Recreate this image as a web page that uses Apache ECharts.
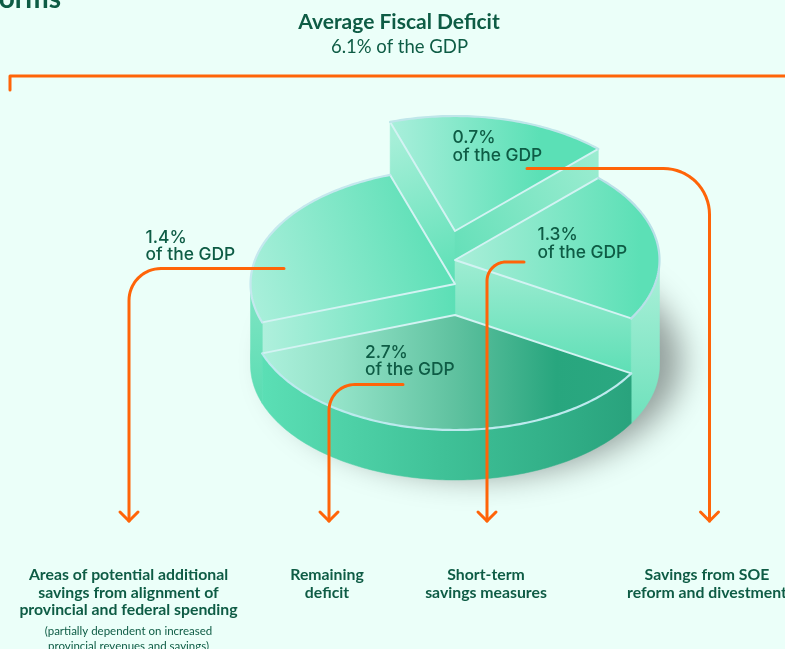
<!DOCTYPE html>
<html>
<head>
<meta charset="utf-8">
<style>html,body{margin:0;padding:0;background:#ebfff9}#c{width:785px;height:649px}</style>
<script src="https://cdn.jsdelivr.net/npm/echarts@6/dist/echarts.min.js"></script>
</head>
<body>
<div id="c"></div>
<script>
// ---- Data ----
const titleText = 'Average Fiscal Deficit';
const subtitleText = '6.1% of the GDP';
const sliceIds = ['soe', 'shortTerm', 'areas', 'remaining'];
const gdpShares = [0.7, 1.3, 1.4, 2.7];
// The wedges in the reference are not drawn to scale, so the angles are read off the picture too.
const drawnSweepDegrees = [63, 76, 91, 130];
const categoryLines = [
  ['Areas of potential additional', 'savings from alignment of', 'provincial and federal spending'],
  ['Remaining', 'deficit'],
  ['Short-term', 'savings measures'],
  ['Savings from SOE', 'reform and divestment']
];
const categoryNotes = ['(partially dependent on increased', 'provincial revenues and savings)'];

// ---- Layout and style ----
const CX = 455, RX = 204.5, RY = 115, BASE_Y = 365, START = -108.5;
const CLOCKWISE = ['soe', 'shortTerm', 'remaining', 'areas'];
const RISE = {soe: 134, shortTerm: 105, areas: 81, remaining: 50};
const G = (x, y, x2, y2, stops) => new echarts.graphic.LinearGradient(x, y, x2, y2,
  stops.map((c, i) => Array.isArray(c) ? {offset: c[0], color: c[1]} : {offset: i / (stops.length - 1), color: c}), true);
const LOOK = {
  soe: {
    top: G(390, 0, 540, 0, ['#a9efdb', '#5be0b6']), edge: '#bfe6ea',
    wallA: G(389, 140, 454, 280, ['#a6efd8', '#5de0b6']), wallB: G(454, 250, 598, 160, ['#66e0b9', '#9aecd0'])
  },
  shortTerm: {
    top: G(460, 0, 640, 0, ['#a8eed8', '#5ce0b6']), edge: '#b9e0e8',
    wallB: G(0, 265, 0, 372, ['#9cecd1', '#5fdfb6']), outer: G(0, 285, 0, 425, ['#a3eed5', '#6de1bb'])
  },
  areas: {
    top: G(255, 305, 450, 250, ['#a8efda', '#5adfb5']), edge: '#c5e8ee',
    wallA: G(261, 0, 454, 0, ['#b0f0dd', '#5cdfb6']), outer: G(0, 300, 0, 410, ['#7ce4c2', '#58dcb1'])
  },
  remaining: {
    top: G(261, 0, 630, 0, [[0, '#adf0dc'], [0.22, '#92e2c7'], [0.52, '#60c2a0'], [0.8, '#28a67e'], [1, '#2ba881']]), edge: '#bdeaee',
    outer: G(261, 0, 630, 0, [[0, '#5bdfb5'], [0.5, '#3fc197'], [1, '#29a37d']])
  }
};
const INK = '#0e5c45', ORANGE = '#ff6408';
const LEADER_LINES = [
  {from: [284, 268.5], corner: [129, 268.5], to: [129, 521], r: 32},
  {from: [403, 384.5], corner: [329, 384.5], to: [329, 521], r: 26},
  {from: [524, 262], corner: [487, 262], to: [487, 521], r: 19},
  {from: [527, 168.5], corner: [709.5, 168.5], to: [709.5, 521], r: 46}
];
const LABEL_SPOTS = [[452.5, 138], [537.5, 235], [145.5, 237.5], [365, 352.5]];
const CATEGORY_X = [128.5, 327, 486, 707];
const CATEGORY_Y = 575, CATEGORY_STEP = 17.6;

// ---- Geometry helpers ----
const rad = d => d * Math.PI / 180;
const P = (t, cy) => [CX + RX * Math.cos(rad(t)), cy + RY * Math.sin(rad(t))];
function arc(t0, t1, cy) {
  const pts = [], n = Math.max(2, Math.ceil(Math.abs(t1 - t0)));
  for (let i = 0; i <= n; i++) pts.push(P(t0 + (t1 - t0) * i / n, cy));
  return pts;
}
function wedges() {
  let t = START; const out = {};
  CLOCKWISE.forEach(id => {
    const s = drawnSweepDegrees[sliceIds.indexOf(id)];
    out[id] = [t, t + s]; t += s;
  });
  return out;
}
const ANGLES = wedges();
function poly(points, fill, z2) {
  return {type: 'polygon', shape: {points}, style: {fill, stroke: fill, lineWidth: 0.5}, z2};
}
function line(points, stroke, lineWidth, z2) {
  return {type: 'polyline', shape: {points}, style: {stroke, lineWidth, fill: null, lineCap: 'round', lineJoin: 'round'}, z2};
}
function renderBlock(params, api) {
  const id = sliceIds[api.value(0)], look = LOOK[id];
  const [t0, t1] = ANGLES[id], cy = BASE_Y - RISE[id], h = RISE[id];
  const kids = [];
  const radial = (t, fill) => {
    const p = P(t, cy);
    kids.push(poly([[CX, cy], p, [p[0], p[1] + h], [CX, cy + h]], fill));
  };
  if (Math.cos(rad(t0)) < 0 && look.wallA) radial(t0, look.wallA);
  if (Math.cos(rad(t1)) > 0 && look.wallB) radial(t1, look.wallB);
  const a = Math.max(t0, 0), b = Math.min(t1, 180);
  if (b > a && look.outer) {
    const top = arc(a, b, cy), low = arc(b, a, BASE_Y);
    kids.push(poly(top.concat(low), look.outer));
  }
  const rim = arc(t0, t1, cy);
  kids.push(poly([[CX, cy]].concat(rim), look.top));
  kids.push(line([P(t1, cy), [CX, cy], P(t0, cy)], '#d3f3f3', 2));
  kids.push(line(rim, look.edge, 2.2));
  return {type: 'group', children: kids};
}
function renderShadow() {
  return {
    type: 'polygon', shape: {points: arc(0, 360, BASE_Y - 8)},
    style: {fill: '#5fdfb6', shadowBlur: 32, shadowColor: 'rgba(0,0,0,0.38)', shadowOffsetX: 22, shadowOffsetY: 4}
  };
}
function bend(a, c, b, r) {
  const pts = [a], dx = Math.sign(c[0] - a[0]), dy = Math.sign(b[1] - c[1]);
  for (let i = 0; i <= 16; i++) {
    const u = i / 16 * Math.PI / 2;
    pts.push([c[0] - dx * r + dx * r * Math.sin(u), c[1] + dy * r - dy * r * Math.cos(u)]);
  }
  pts.push(b);
  return pts;
}
function renderLeader(params, api) {
  const L = LEADER_LINES[api.value(0)], [x, y] = L.to;
  return {type: 'group', children: [
    line(bend(L.from, L.corner, L.to, L.r), ORANGE, 3),
    line([[x - 9, y - 9], [x, y], [x + 9, y - 9]], ORANGE, 3)
  ]};
}
function renderShare(params, api) {
  const i = api.value(0), [x, y] = LABEL_SPOTS[i];
  const base = {x, fill: INK, textAlign: 'left', textVerticalAlign: 'middle', font: '500 17.4px Inter'};
  return {type: 'group', children: [
    {type: 'text', style: Object.assign({}, base, {y, text: gdpShares[i] + '%'})},
    {type: 'text', style: Object.assign({}, base, {y: y + 17.5, text: 'of the GDP'})}
  ]};
}
function renderCategory(params, api) {
  const i = api.value(0), x = CATEGORY_X[i], kids = [];
  categoryLines[i].forEach((text, k) => kids.push({type: 'text', style: {
    x, y: CATEGORY_Y + k * CATEGORY_STEP, text, fill: INK, textAlign: 'center', textVerticalAlign: 'middle', font: '700 15.8px Lato'
  }}));
  if (i === 0) categoryNotes.forEach((text, k) => kids.push({type: 'text', style: {
    x, y: 631 + k * 15, text, fill: INK, textAlign: 'center', textVerticalAlign: 'middle', font: '400 11.5px Lato'
  }}));
  return {type: 'group', children: kids};
}
function renderFrame() {
  return {type: 'group', children: [
    line([[10, 90], [10, 76], [790, 76]], ORANGE, 3),
    {type: 'text', style: {x: 61, y: -1, text: 'orms', fill: INK, textAlign: 'right', textVerticalAlign: 'middle', font: '700 28px Lato'}},
    {type: 'text', style: {x: 399, y: 22, text: titleText, fill: INK, textAlign: 'center', textVerticalAlign: 'middle', font: '700 21px Lato'}},
    {type: 'text', style: {x: 399.5, y: 47, text: subtitleText, fill: INK, textAlign: 'center', textVerticalAlign: 'middle', font: '400 18.5px Lato'}}
  ]};
}
const custom = (renderItem, count, z) => ({
  type: 'custom', coordinateSystem: 'none', silent: true, animation: false, z,
  renderItem, data: Array.from({length: count}, (_, i) => [i])
});
const chart = echarts.init(document.getElementById('c'), null, {renderer: 'canvas'});
chart.setOption({
  backgroundColor: '#ebfff9',
  animation: false,
  series: [
    custom(renderFrame, 1, 1),
    custom(renderShadow, 1, 2),
    custom(renderBlock, sliceIds.length, 3),
    custom(renderLeader, LEADER_LINES.length, 4),
    custom(renderShare, gdpShares.length, 5),
    custom(renderCategory, categoryLines.length, 6)
  ]
});
</script>
</body>
</html>
